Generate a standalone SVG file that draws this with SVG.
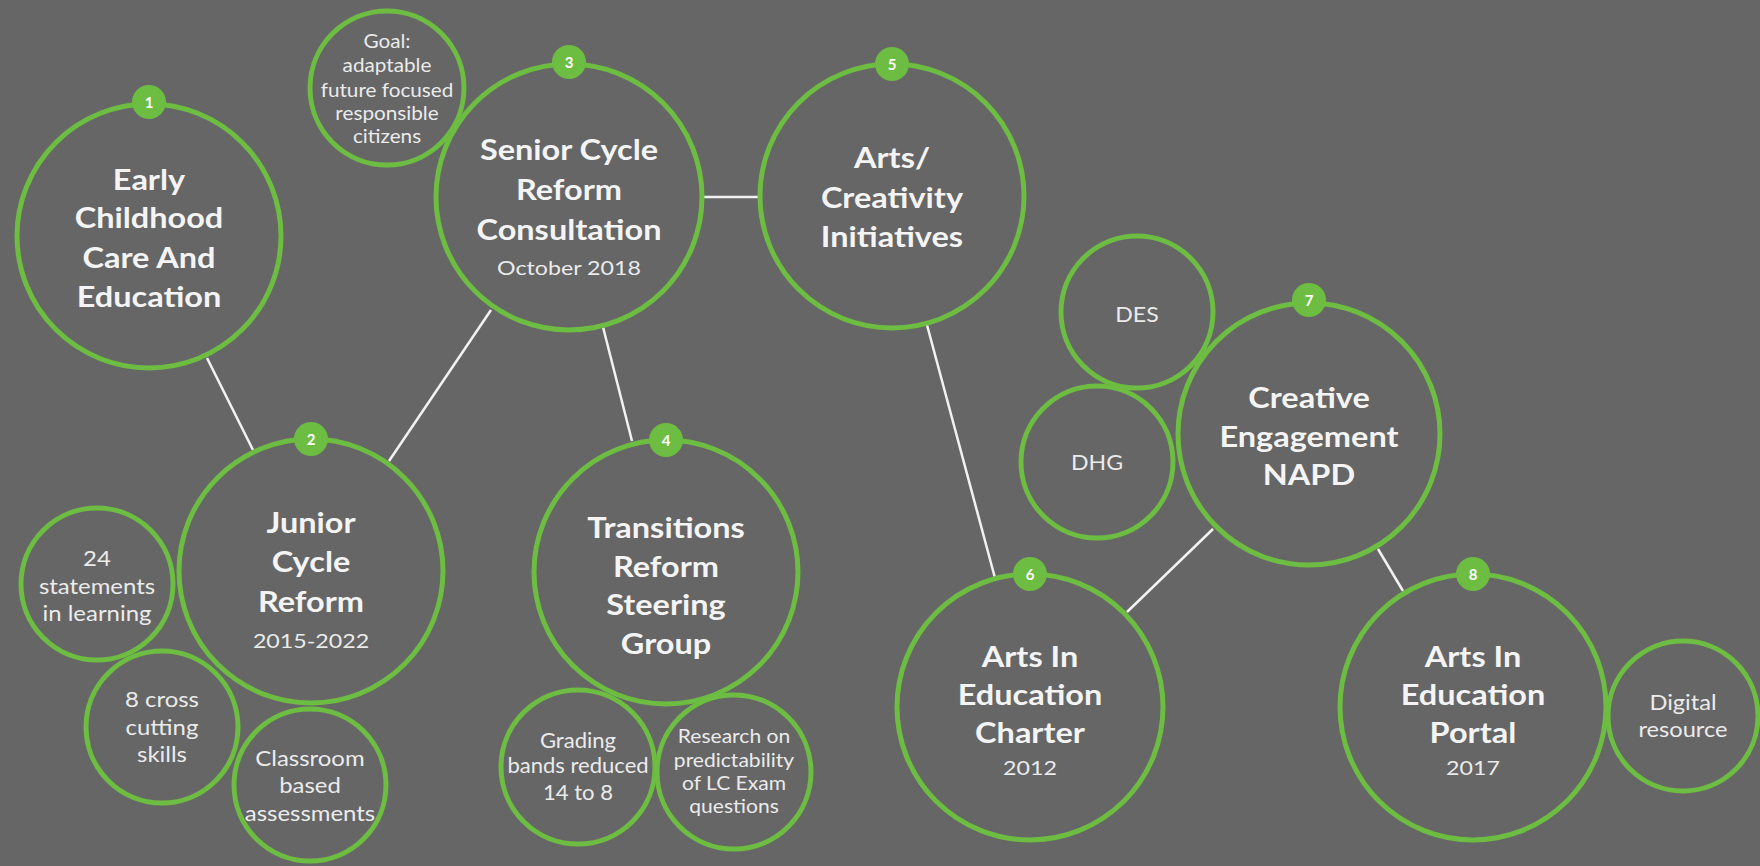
<svg xmlns="http://www.w3.org/2000/svg" width="1760" height="866" viewBox="0 0 1760 866">
<style>
.ring{fill:#666666;stroke:#6cbd41;stroke-width:5}
.badge{fill:#6cbd41}
.bt{font-family:Lato,"Liberation Sans",sans-serif;font-weight:700;font-size:15px;fill:#ffffff;text-anchor:middle}
.t{font-family:Lato,"Liberation Sans",sans-serif;font-weight:700;font-size:28px;fill:#f4f4f4;text-anchor:middle}
.s{font-family:Lato,"Liberation Sans",sans-serif;font-weight:400;font-size:20px;fill:#ebebeb;text-anchor:middle}
.m{font-family:Lato,"Liberation Sans",sans-serif;font-weight:400;font-size:21px;fill:#ebebeb;text-anchor:middle}
.g{font-family:Lato,"Liberation Sans",sans-serif;font-weight:400;font-size:18.5px;fill:#ebebeb;text-anchor:middle}
.r{font-family:Lato,"Liberation Sans",sans-serif;font-weight:400;font-size:19.5px;fill:#ebebeb;text-anchor:middle}
.d{font-family:Lato,"Liberation Sans",sans-serif;font-weight:400;font-size:21.5px;fill:#ebebeb;text-anchor:middle}
.conn line{stroke:#f2f2f2;stroke-width:2.5}
</style>
<rect width="1760" height="866" fill="#666666"/>
<g id="connectors" class="conn">
<line x1="207" y1="358" x2="253" y2="450"/>
<line x1="491" y1="310" x2="389" y2="461"/>
<line x1="603" y1="327" x2="632" y2="441"/>
<line x1="702" y1="197" x2="760" y2="197"/>
<line x1="927" y1="325" x2="995" y2="578"/>
<line x1="1127" y1="612" x2="1213" y2="529"/>
<line x1="1378" y1="549" x2="1403" y2="591"/>
</g>
<g id="node1">
<circle class="ring" cx="149" cy="236" r="132"/>
<circle class="badge" cx="149" cy="102" r="17"/><text class="bt" x="149" y="107.5">1</text>
<g transform="matrix(1.16,0,0,1,-23.84,0)">
<text class="t" x="149" y="190">Early</text>
<text class="t" x="149" y="228">Childhood</text>
<text class="t" x="149" y="268">Care And</text>
<text class="t" x="149" y="307">Education</text>
</g>
</g>
<g id="goal">
<circle class="ring" cx="387" cy="88" r="77"/>
<g transform="matrix(1.12,0,0,1,-46.44,0)">
<text class="g" x="387" y="48">Goal:</text>
<text class="g" x="387" y="72">adaptable</text>
<text class="g" x="387" y="97">future focused</text>
<text class="g" x="387" y="120">responsible</text>
<text class="g" x="387" y="143">citizens</text>
</g>
</g>
<g id="node3">
<circle class="ring" cx="569" cy="197" r="133"/>
<circle class="badge" cx="569" cy="62" r="17"/><text class="bt" x="569" y="67.5">3</text>
<g transform="matrix(1.16,0,0,1,-91.04,0)">
<text class="t" x="569" y="160">Senior Cycle</text>
<text class="t" x="569" y="200">Reform</text>
<text class="t" x="569" y="240">Consultation</text>
<text class="s" x="569" y="275">October 2018</text>
</g>
</g>
<g id="node5">
<circle class="ring" cx="892" cy="196" r="132"/>
<circle class="badge" cx="892" cy="64" r="17"/><text class="bt" x="892" y="69.5">5</text>
<g transform="matrix(1.16,0,0,1,-142.72,0)">
<text class="t" x="892" y="168">Arts/</text>
<text class="t" x="892" y="208">Creativity</text>
<text class="t" x="892" y="247">Initiatives</text>
</g>
</g>
<g id="node2">
<circle class="ring" cx="311" cy="571" r="132"/>
<circle class="badge" cx="311" cy="439" r="17"/><text class="bt" x="311" y="444.5">2</text>
<g transform="matrix(1.16,0,0,1,-49.76,0)">
<text class="t" x="311" y="533">Junior</text>
<text class="t" x="311" y="572">Cycle</text>
<text class="t" x="311" y="612">Reform</text>
<text class="s" x="311" y="648">2015-2022</text>
</g>
</g>
<g id="statements">
<circle class="ring" cx="97" cy="584" r="76"/>
<g transform="matrix(1.14,0,0,1,-13.58,0)">
<text class="m" x="97" y="566">24</text>
<text class="m" x="97" y="594">statements</text>
<text class="m" x="97" y="621">in learning</text>
</g>
</g>
<g id="skills">
<circle class="ring" cx="162" cy="727" r="76"/>
<g transform="matrix(1.14,0,0,1,-22.68,0)">
<text class="m" x="162" y="707">8 cross</text>
<text class="m" x="162" y="735">cutting</text>
<text class="m" x="162" y="762">skills</text>
</g>
</g>
<g id="classroom">
<circle class="ring" cx="310" cy="785" r="76"/>
<g transform="matrix(1.14,0,0,1,-43.4,0)">
<text class="m" x="310" y="766">Classroom</text>
<text class="m" x="310" y="793">based</text>
<text class="m" x="310" y="821">assessments</text>
</g>
</g>
<g id="node4">
<circle class="ring" cx="666" cy="572" r="132"/>
<circle class="badge" cx="666" cy="440" r="17"/><text class="bt" x="666" y="445.5">4</text>
<g transform="matrix(1.16,0,0,1,-106.56,0)">
<text class="t" x="666" y="538">Transitions</text>
<text class="t" x="666" y="577">Reform</text>
<text class="t" x="666" y="615">Steering</text>
<text class="t" x="666" y="654">Group</text>
</g>
</g>
<g id="grading">
<circle class="ring" cx="578" cy="767" r="77"/>
<g transform="matrix(1.05,0,0,1,-28.9,0)">
<text class="m" x="578" y="748">Grading</text>
<text class="m" x="578" y="773">bands reduced</text>
<text class="m" x="578" y="800">14 to 8</text>
</g>
</g>
<g id="research">
<circle class="ring" cx="734" cy="772" r="77"/>
<g transform="matrix(1.08,0,0,1,-58.72,0)">
<text class="r" x="734" y="743">Research on</text>
<text class="r" x="734" y="767">predictability</text>
<text class="r" x="734" y="790">of LC Exam</text>
<text class="r" x="734" y="813">questions</text>
</g>
</g>
<g id="node6">
<circle class="ring" cx="1030" cy="707" r="133"/>
<circle class="badge" cx="1030" cy="574" r="17"/><text class="bt" x="1030" y="579.5">6</text>
<g transform="matrix(1.16,0,0,1,-164.8,0)">
<text class="t" x="1030" y="667">Arts In</text>
<text class="t" x="1030" y="705">Education</text>
<text class="t" x="1030" y="743">Charter</text>
<text class="s" x="1030" y="775">2012</text>
</g>
</g>
<g id="des">
<circle class="ring" cx="1137" cy="312" r="76"/>
<g transform="matrix(1.1,0,0,1,-113.7,0)">
<text class="m" x="1137" y="322">DES</text>
</g>
</g>
<g id="dhg">
<circle class="ring" cx="1097" cy="462" r="76"/>
<g transform="matrix(1.1,0,0,1,-109.7,0)">
<text class="m" x="1097" y="470">DHG</text>
</g>
</g>
<g id="node7">
<circle class="ring" cx="1309" cy="434" r="131"/>
<circle class="badge" cx="1309" cy="300" r="17"/><text class="bt" x="1309" y="305.5">7</text>
<g transform="matrix(1.16,0,0,1,-209.44,0)">
<text class="t" x="1309" y="408">Creative</text>
<text class="t" x="1309" y="447">Engagement</text>
<text class="t" x="1309" y="485">NAPD</text>
</g>
</g>
<g id="node8">
<circle class="ring" cx="1473" cy="707" r="133"/>
<circle class="badge" cx="1473" cy="574" r="17"/><text class="bt" x="1473" y="579.5">8</text>
<g transform="matrix(1.16,0,0,1,-235.68,0)">
<text class="t" x="1473" y="667">Arts In</text>
<text class="t" x="1473" y="705">Education</text>
<text class="t" x="1473" y="743">Portal</text>
<text class="s" x="1473" y="775">2017</text>
</g>
</g>
<g id="digital">
<circle class="ring" cx="1683" cy="716" r="75"/>
<g transform="matrix(1.1,0,0,1,-168.3,0)">
<text class="d" x="1683" y="710">Digital</text>
<text class="d" x="1683" y="737">resource</text>
</g>
</g>
</svg>
